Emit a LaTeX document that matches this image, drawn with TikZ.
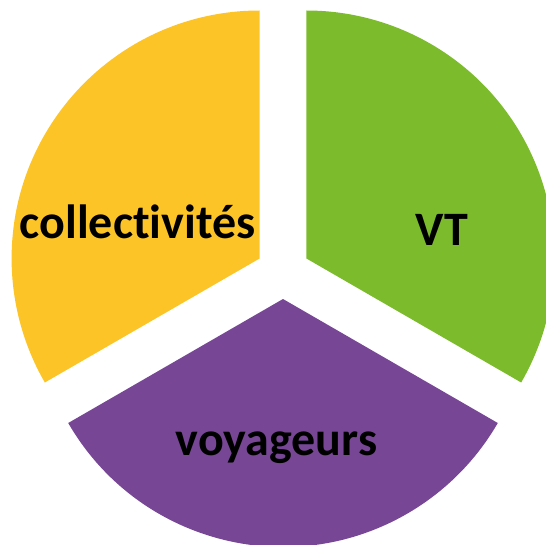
\documentclass[tikz,border=0pt]{standalone}
\usepackage{fontspec}
\setmainfont{Carlito}[RawFeature={-liga;-clig;-dlig}]
\definecolor{secyellow}{RGB}{252,196,38}
\definecolor{secgreen}{RGB}{124,187,44}
\definecolor{secpurple}{RGB}{119,71,150}
\begin{document}
\begin{tikzpicture}[x=0.75pt,y=0.75pt,
  lbl/.style={font=\fontsize{36}{43}\selectfont\bfseries, text=black, inner sep=0pt, anchor=base}]
\useasboundingbox (0,0) rectangle (546,544);
\clip (0,0) rectangle (546,544);
\def\R{248}
\coordinate (cy) at (259.6,285.5);
\coordinate (cg) at (306.4,285.5);
\coordinate (cp) at (283,245);
\fill[secyellow] (cy) -- ++(90:\R) arc[start angle=90, end angle=210, radius=\R] -- cycle;
\fill[secgreen] (cg) -- ++(-30:\R) arc[start angle=-30, end angle=90, radius=\R] -- cycle;
\fill[secpurple] (cp) -- ++(210:\R) arc[start angle=210, end angle=330, radius=\R] -- cycle;
\node[lbl] (coll) at (137.5,306) {collectivités};
\node[lbl] (vt) at (442,299) {VT};
\node[lbl] (voy) at (276.5,89) {voyageurs};
\end{tikzpicture}
\end{document}
